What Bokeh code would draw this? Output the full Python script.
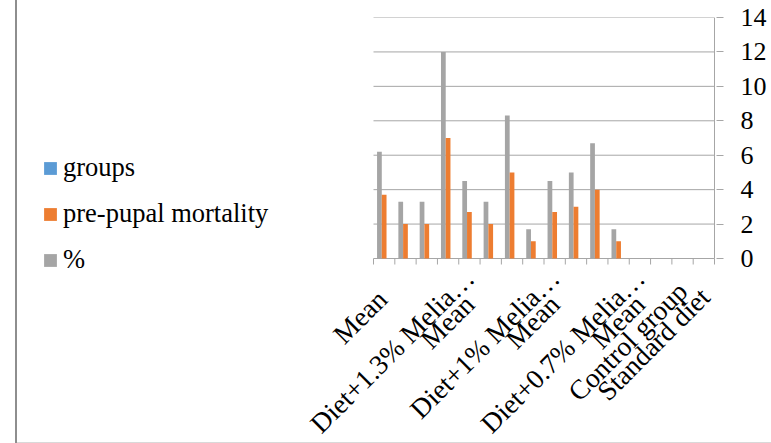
import math
from bokeh.plotting import figure
from bokeh.models import (ColumnDataSource, FixedTicker, Legend, LegendItem,
                          Range1d)
from bokeh.core.properties import value
from bokeh.transform import dodge
from bokeh.embed import file_html
from bokeh.resources import INLINE

# ---- data ----
categories = ["Mean", "", "", "", "Mean", "", "", "", "Mean", "", "", "",
              "Mean", "", "Control group", "Standard diet"]
group_labels = ["", "", "", "", "Diet+1.3% Melia…", "", "", "",
                "Diet+1% Melia…", "", "", "", "Diet+0.7% Melia…", "", "", ""]
series_names = ["groups", "pre-pupal mortality", "%"]
pct = [6.2, 3.3, 3.3, 12, 4.5, 3.3, 8.3, 1.7, 4.5, 5, 6.7, 1.7, 0, 0, 0, 0]
mortality = [3.7, 2, 2, 7, 2.7, 2, 5, 1, 2.7, 3, 4, 1, 0, 0, 0, 0]
groups = [0, 0, 0, 0, 0, 0, 0, 0, 0, 0, 0, 0, 0, 0, 0, 0]
y_ticks = [0, 2, 4, 6, 8, 10, 12, 14]

# ---- styling / layout constants ----
FONT = "Liberation Serif"
GRID = "#a6a6a6"
COL_GRP, COL_MORT, COL_PCT = "#5b9bd5", "#ed7d31", "#a5a5a5"
W, H = 771, 443
TOP, RIGHT = 17, 55
PLOT_LEFT_PX, PLOT_W_PX, PLOT_H_PX = 373, 341, 241
# pixel nudges of the rotated category labels (x, y)
GROUP_NUDGE = (0, 15)
MEAN_UNDER_GROUP_NUDGE = (0, 41)
SINGLE_NUDGE = {0: (-2, 36), 14: (0, 28), 15: (1, 34)}

n = len(categories)
ymax = y_ticks[-1]
px_x = PLOT_W_PX / n
px_y = PLOT_H_PX / ymax
frame_w = W - RIGHT
frame_h = H - TOP
x_lo = -0.5 - PLOT_LEFT_PX / px_x
x_hi = x_lo + frame_w / px_x
y_lo = ymax - frame_h / px_y
bw = 1 / 4.5

idx = list(range(n))
src = ColumnDataSource(dict(x=idx, pct=pct, mort=mortality, grp=groups))

p = figure(width=W, height=H, output_backend="svg", toolbar_location=None,
           x_range=Range1d(x_lo, x_hi), y_range=Range1d(y_lo, ymax),
           x_axis_location=None, y_axis_location="right",
           min_border_left=0, min_border_right=RIGHT,
           min_border_top=TOP, min_border_bottom=0)
p.outline_line_color = None
p.grid.visible = False
p.background_fill_alpha = 0
p.border_fill_alpha = 0
p.styles = {
    "background-image": "linear-gradient(#8e8e8e,#8e8e8e), linear-gradient(#d9d9d9,#d9d9d9)",
    "background-size": "2px 100%, 756px 1px",
    "background-position": "15px 0px, 15px 442px",
    "background-repeat": "no-repeat",
}

# gridlines (only over the category area) and right axis line
p.segment(x0=-0.5, x1=n - 0.5, y0=y_ticks, y1=y_ticks, line_color=GRID, line_width=1)
p.segment(x0=n - 0.5, x1=n - 0.5, y0=0, y1=ymax, line_color=GRID, line_width=1)
# category separator tick marks below the x axis line
p.ray(x=[i - 0.5 for i in range(n + 1)], y=0, length=6, length_units="screen",
      angle=-math.pi / 2, line_color=GRID, line_width=1)

r_pct = p.vbar(x=dodge("x", -bw), top="pct", width=bw, source=src,
               fill_color=COL_PCT, line_color=None)
r_mort = p.vbar(x="x", top="mort", width=bw, source=src,
                fill_color=COL_MORT, line_color=None)
r_grp = p.vbar(x=dodge("x", bw), top="grp", width=bw, source=src,
               fill_color=COL_GRP, line_color=None)

# category labels (rotated 45 degrees, right end under the category)
lx, lt, lxo, lyo = [], [], [], []
for i, (c, g) in enumerate(zip(categories, group_labels)):
    if g:
        lx.append(i); lt.append(g)
        lxo.append(GROUP_NUDGE[0]); lyo.append(GROUP_NUDGE[1])
    if c:
        nx, ny = MEAN_UNDER_GROUP_NUDGE if g else SINGLE_NUDGE.get(i, (0, 34))
        lx.append(i); lt.append(c); lxo.append(nx); lyo.append(ny)
lab_src = ColumnDataSource(dict(x=lx, y=[0] * len(lx), text=lt, xo=lxo, yo=lyo))
p.text(x="x", y="y", text="text", source=lab_src, x_offset="xo", y_offset="yo",
       angle=math.pi / 4, text_align="right", text_baseline="alphabetic",
       text_font=value(FONT), text_font_size="27.5px", text_color="#000000")

# y axis (right)
ya = p.yaxis[0]
ya.ticker = FixedTicker(ticks=y_ticks)
ya.major_tick_out = 7
ya.major_tick_in = 0
ya.major_tick_line_color = GRID
ya.minor_tick_line_color = None
ya.axis_line_color = None
ya.major_label_standoff = 17
ya.major_label_text_font = FONT
ya.major_label_text_font_size = "26px"
ya.major_label_text_color = "#000000"

legend = Legend(items=[LegendItem(label=series_names[0], renderers=[r_grp]),
                       LegendItem(label=series_names[1], renderers=[r_mort]),
                       LegendItem(label=series_names[2], renderers=[r_pct])],
                location=(42, 168), orientation="vertical",
                glyph_width=16, glyph_height=16, label_standoff=5,
                spacing=15, padding=0, margin=0,
                border_line_color=None, background_fill_alpha=0,
                label_text_font=FONT, label_text_font_size="26.5px",
                label_text_color="#000000", label_height=26)
p.add_layout(legend, "center")

open("out.html", "w").write(file_html(p, INLINE))
